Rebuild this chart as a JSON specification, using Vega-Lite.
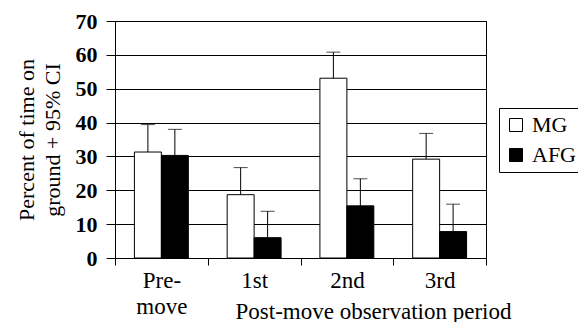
{
  "$schema": "https://vega.github.io/schema/vega-lite/v6.json",
  "width": 371,
  "height": 237,
  "autosize": "none",
  "padding": {"left": 115, "top": 21, "right": 92, "bottom": 64},
  "background": "white",
  "config": {
    "font": "Liberation Serif",
    "view": {"stroke": "black", "strokeWidth": 1},
    "axis": {"labelColor": "black", "titleColor": "black", "domainColor": "black", "tickColor": "black", "gridColor": "black", "labelFont": "Liberation Serif", "titleFont": "Liberation Serif"}
  },
  "data": {
    "values": [
      {"period": "Pre-move", "group": "MG", "value": 31.3, "upper": 39.4},
      {"period": "Pre-move", "group": "AFG", "value": 30.3, "upper": 38.0},
      {"period": "1st", "group": "MG", "value": 18.7, "upper": 26.7},
      {"period": "1st", "group": "AFG", "value": 6.0, "upper": 13.8},
      {"period": "2nd", "group": "MG", "value": 53.1, "upper": 60.8},
      {"period": "2nd", "group": "AFG", "value": 15.4, "upper": 23.4},
      {"period": "3rd", "group": "MG", "value": 29.2, "upper": 36.8},
      {"period": "3rd", "group": "AFG", "value": 7.8, "upper": 15.9}
    ]
  },
  "encoding": {
    "x": {
      "field": "period", "type": "nominal", "sort": ["Pre-move", "1st", "2nd", "3rd"],
      "scale": {"paddingInner": 0, "paddingOuter": 0},
      "axis": {
        "title": "Post-move observation period",
        "titleFontSize": 23, "titleFontWeight": "normal",
        "titleX": 258, "titleY": 60, "titleBaseline": "alphabetic", "titleAnchor": "middle",
        "labelFontSize": 23, "labelAngle": 0, "labelPadding": 4, "labelLineHeight": 26,
        "labelExpr": "datum.value == 'Pre-move' ? ['Pre-', 'move'] : datum.value",
        "tickBand": "extent", "tickSize": 7, "grid": false, "domainWidth": 1
      }
    },
    "xOffset": {"field": "group", "type": "nominal", "sort": ["MG", "AFG"], "scale": {"paddingInner": 0, "paddingOuter": 0.72}},
    "y": {
      "field": "value", "type": "quantitative",
      "scale": {"domain": [0, 70], "nice": false},
      "axis": {
        "title": ["Percent of time on", "ground + 95% CI"],
        "titleFontSize": 22, "titleFontWeight": "normal", "titleLineHeight": 26, "titlePadding": 11,
        "labelFontSize": 22, "labelFontWeight": "bold", "labelPadding": 9, "labelOverlap": false, "labelFlush": false,
        "values": [0, 10, 20, 30, 40, 50, 60, 70], "tickCount": 20, "tickSize": 9, "grid": true, "gridWidth": 1
      }
    }
  },
  "layer": [
    {
      "mark": {"type": "bar", "stroke": "black", "strokeWidth": 1},
      "encoding": {
        "fill": {
          "field": "group", "type": "nominal", "sort": ["MG", "AFG"],
          "scale": {"domain": ["MG", "AFG"], "range": ["white", "black"]},
          "legend": {
            "title": null, "orient": "none", "legendX": 384, "legendY": 87,
            "strokeColor": "black", "padding": 6, "fillColor": "white",
            "symbolType": "square", "symbolSize": 169, "symbolStrokeColor": "black", "symbolStrokeWidth": 1,
            "labelFontSize": 22, "labelFont": "Liberation Serif", "labelColor": "black", "labelOffset": 5,
            "rowPadding": 8
          }
        }
      }
    },
    {
      "mark": {"type": "rule", "color": "black", "strokeWidth": 1},
      "encoding": {
        "y2": {"field": "upper"}
      }
    },
    {
      "mark": {"type": "tick", "color": "black", "thickness": 1, "size": 14},
      "encoding": {
        "y": {"field": "upper", "type": "quantitative"}
      }
    }
  ]
}
